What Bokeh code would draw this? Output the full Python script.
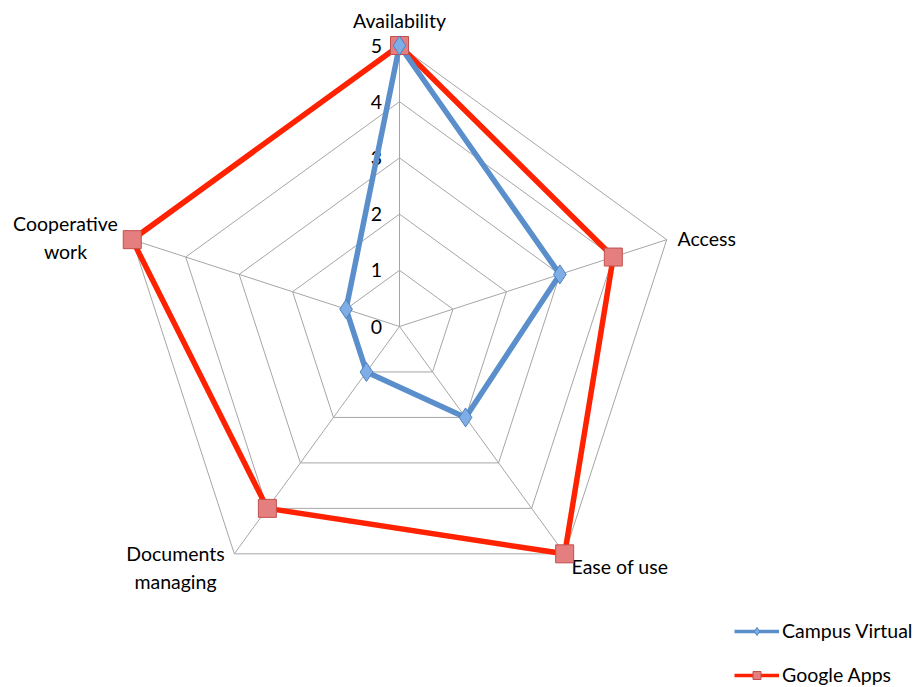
import math
from bokeh.plotting import figure
from bokeh.models import Legend, LegendItem, Range1d
from bokeh.core.properties import value
from bokeh.embed import file_html
from bokeh.resources import INLINE

categories = ["Availability", "Access", "Ease of use", "Documents\nmanaging", "Cooperative\nwork"]
campus_virtual = [5, 3, 2, 1, 1]
google_apps = [5, 4, 5, 4, 5]
tick_labels = ["0", "1", "2", "3", "4", "5"]
max_val = 5

S = 56.2  # px per unit
CX, CY = 399, 326
W, H = 918, 687

p = figure(width=W, height=H, output_backend="svg", toolbar_location=None,
           x_range=Range1d(-CX / S, (W - CX) / S), y_range=Range1d(-(H - CY) / S, CY / S),
           min_border=0, outline_line_color=None)
p.axis.visible = False
p.grid.visible = False
p.background_fill_color = "white"

n = len(categories)
angles = [math.pi / 2 - 2 * math.pi * i / n for i in range(n)]

def pts(vals):
    xs = [v * math.cos(a) for v, a in zip(vals, angles)]
    ys = [v * math.sin(a) for v, a in zip(vals, angles)]
    return xs, ys

grid_col = "#a6a6a6"
for lvl in range(1, max_val + 1):
    xs, ys = pts([lvl] * n)
    p.line(xs + xs[:1], ys + ys[:1], line_color=grid_col, line_width=1)
for a in angles:
    p.line([0, max_val * math.cos(a)], [0, max_val * math.sin(a)], line_color=grid_col, line_width=1)

FONT = value("Lato")
FS = "19.5px"

# tick labels
p.text(x=[-0.31] * len(tick_labels), y=[float(t) for t in tick_labels], text=tick_labels,
       text_font=FONT, text_font_size=FS, text_align="right", text_baseline="middle",
       text_color="black")

# category labels
lab_x = [0, (677 - CX) / S, (571 - CX) / S, (175 - CX) / S, (65 - CX) / S]
lab_y = [(CY - 20) / S, (CY - 238) / S, (CY - 566) / S, (CY - 567) / S, (CY - 237) / S]
aligns = ["center", "left", "left", "center", "center"]
for c, x, y, al in zip(categories, lab_x, lab_y, aligns):
    p.text(x=[x], y=[y], text=[c], text_font=FONT, text_font_size=FS,
           text_align=al, text_baseline="middle", text_color="black", text_line_height=1.2)

gx, gy = pts(google_apps)
cx_, cy_ = pts(campus_virtual)

BLUE, BLUE_FILL, BLUE_EDGE = "#5b8fcc", "#7faee6", "#4f81bd"
RED, RED_FILL, RED_EDGE = "#ff2200", "#e57f7f", "#c0504d"

p.line(gx + gx[:1], gy + gy[:1], line_color=RED, line_width=5.5, line_join="miter")
p.line(cx_ + cx_[:1], cy_ + cy_[:1], line_color=BLUE, line_width=5.5, line_join="miter")
p.scatter(gx, gy, marker="square", size=18, fill_color=RED_FILL, line_color=RED_EDGE, line_width=1)
p.scatter(cx_, cy_, marker="diamond", size=19, fill_color=BLUE_FILL, line_color=BLUE_EDGE, line_width=1)

# legend-only glyphs (thinner, smaller as in the reference legend), placed off-canvas
off = [1000.0, 1001.0]
lc = p.line(off, off, line_color=BLUE, line_width=3.5)
mc = p.scatter(off, off, marker="diamond", size=13, fill_color=BLUE_FILL, line_color=BLUE_EDGE)
lg = p.line(off, off, line_color=RED, line_width=3.5)
mg = p.scatter(off, off, marker="square", size=12, fill_color=RED_FILL, line_color=RED_EDGE)

legend = Legend(items=[LegendItem(label="Campus Virtual", renderers=[lc, mc]),
                       LegendItem(label="Google Apps", renderers=[lg, mg])],
                location=(734, 1), orientation="vertical", glyph_width=45, glyph_height=20,
                label_standoff=3, spacing=21, padding=0, margin=0,
                border_line_color=None, background_fill_alpha=0,
                label_text_font="Lato", label_text_font_size=FS, label_text_color="black")
p.add_layout(legend)

open("out.html", "w").write(file_html(p, INLINE))
